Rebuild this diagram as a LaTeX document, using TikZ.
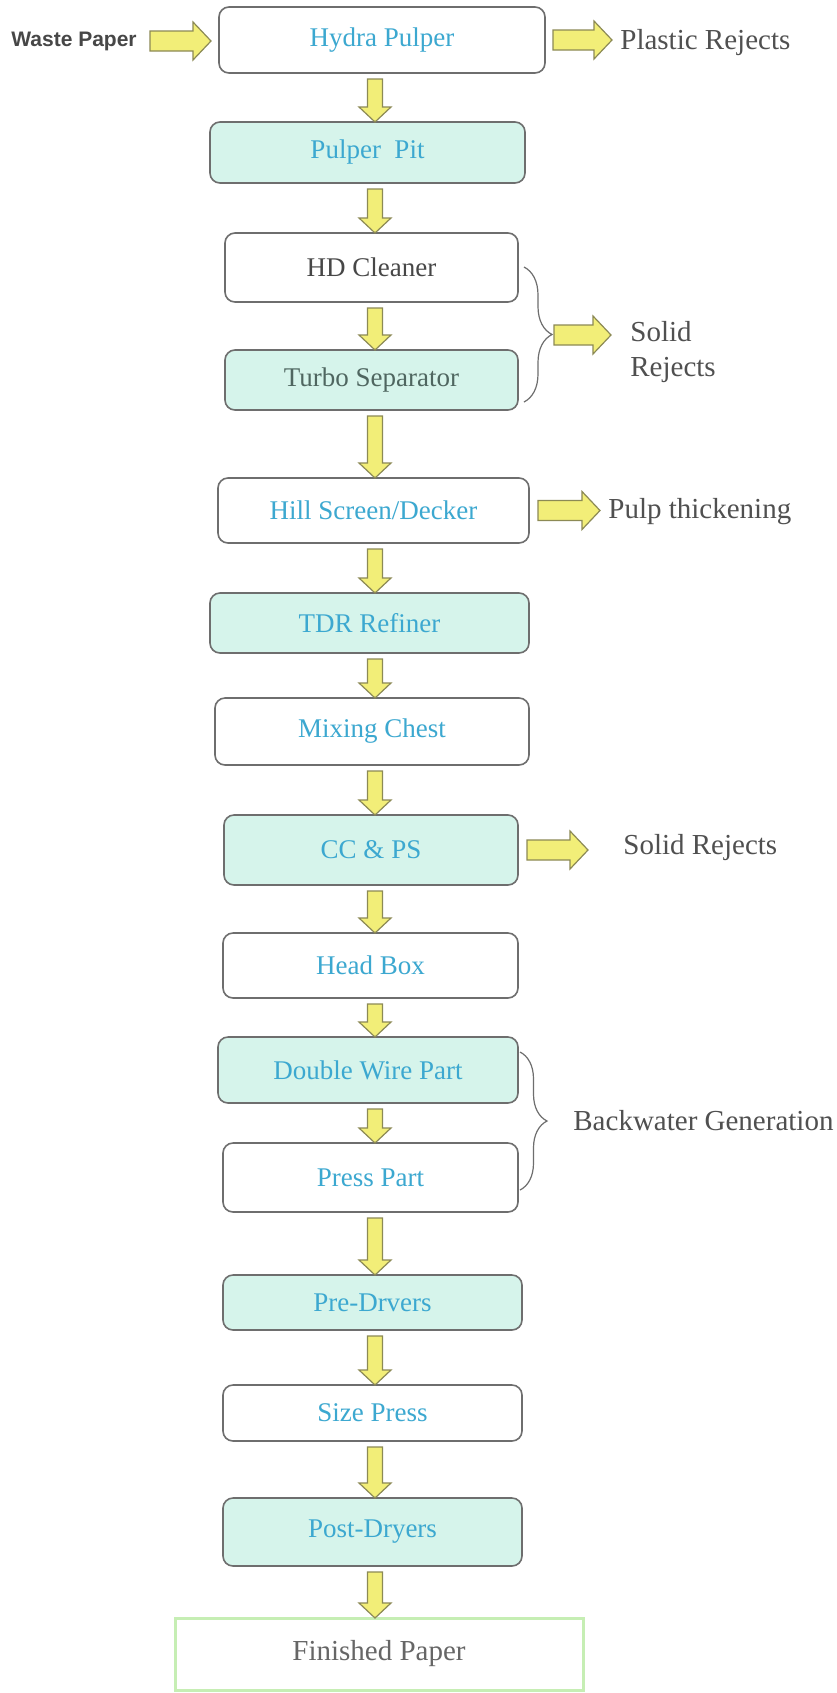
\documentclass[tikz,border=0pt]{standalone}
\usepackage{fontspec}
\setmainfont{Liberation Serif}
\newfontfamily\wsans{Liberation Sans}
\usetikzlibrary{decorations.pathreplacing,calc}
\definecolor{boxgreen}{HTML}{D6F4EB}
\definecolor{txtblue}{HTML}{3CA8D0}
\definecolor{edgegray}{HTML}{6E6E6E}
\definecolor{arrowfill}{HTML}{F2EE78}
\definecolor{arrowedge}{HTML}{8C8A55}
\definecolor{labelgray}{HTML}{505050}
\definecolor{finishedge}{HTML}{C6EEB4}
\definecolor{turbotext}{HTML}{4F6660}
\tikzset{
  procbox/.style={draw=edgegray, line width=0.8pt, rounded corners=5pt, inner sep=0pt, outer sep=0pt,
    text=txtblue, font=\fontsize{13.5}{16}\selectfont},
  greenbox/.style={procbox, fill=boxgreen},
  whitebox/.style={procbox, fill=white},
  finalbox/.style={draw=finishedge, line width=1.5pt, fill=white, inner sep=0pt, outer sep=0pt,
    text=black!60, font=\fontsize{14.5}{17}\selectfont},
  sidelabel/.style={inner sep=0pt, text=labelgray, font=\fontsize{14.5}{17.5}\selectfont, anchor=west, align=left},
  blk/.style={fill=arrowfill, draw=arrowedge, line width=0.6pt, line join=miter},
  bracestyle/.style={draw=edgegray, line width=0.6pt, decorate, decoration={brace, amplitude=#1}},
}
% style, name, left, right, top, bottom, text
\newcommand\procnode[7]{%
  \node[#1, minimum width={(#4-#3)*0.5pt}, minimum height={(#6-#5)*0.5pt}] (#2) at ({(#3+#4)/2},{(#5+#6)/2}) {#7};}
% vertical block arrow from node #1 to node #2
\newcommand\vblk[2]{%
  \path[blk] let \p1=(#1.south), \p2=(#2.north) in
    (183.75pt,\y1-3pt) -- (191.25pt,\y1-3pt) -- (191.25pt,\y2+7.5pt) -- (195.5pt,\y2+7.5pt)
    -- (187.5pt,\y2) -- (179.5pt,\y2+7.5pt) -- (183.75pt,\y2+7.5pt) -- cycle;}
% horizontal block arrow from point #1 to point #2
\newcommand\hblk[2]{%
  \path[blk] let \p1=(#1), \p2=(#2) in
    (\x1,\y1+5pt) -- (\x2-9pt,\y1+5pt) -- (\x2-9pt,\y1+9.5pt) -- (\x2,\y1)
    -- (\x2-9pt,\y1-9.5pt) -- (\x2-9pt,\y1-5pt) -- (\x1,\y1-5pt) -- cycle;}

\begin{document}
\begin{tikzpicture}[x=0.5pt,y=-0.5pt]
\useasboundingbox (0,0) rectangle (836,1693);
\fill[white] (0,0) rectangle (836,1693);

\procnode{whitebox}{hydra}{219}{545}{7}{73}{Hydra Pulper}
\procnode{greenbox}{pit}{210}{525}{122}{183}{Pulper\ \ Pit}
\procnode{whitebox,text=black!72}{hd}{225}{518}{233}{302}{HD Cleaner}
\procnode{greenbox,text=turbotext}{turbo}{225}{518}{350}{410}{Turbo Separator}
\procnode{whitebox}{hill}{218}{529}{478}{543}{Hill Screen/Decker}
\procnode{greenbox}{tdr}{210}{529}{593}{653}{TDR Refiner}
\procnode{whitebox}{mix}{215}{529}{698}{765}{Mixing Chest}
\procnode{greenbox}{cc}{224}{518}{815}{885}{CC \& PS}
\procnode{whitebox}{head}{223}{518}{933}{998}{Head Box}
\procnode{greenbox}{dwire}{218}{518}{1037}{1103}{Double Wire Part}
\procnode{whitebox}{press}{223}{518}{1143}{1212}{Press Part}
\procnode{greenbox}{pre}{223}{522}{1275}{1330}{Pre-Drvers}
\procnode{whitebox}{size}{223}{522}{1385}{1441}{Size Press}
\procnode{greenbox}{post}{223}{522}{1498}{1566}{Post-Dryers}
\procnode{finalbox}{finished}{175}{583}{1618}{1690}{Finished Paper}

% side labels
\node[inner sep=0pt, anchor=west, text=black!72, font=\wsans\bfseries\fontsize{10.5}{12}\selectfont] (waste) at (11,41) {Waste Paper};
\node[sidelabel] (plastic) at (620,43) {Plastic Rejects};
\node[sidelabel] (solid1) at (630,352) {Solid\\Rejects};
\node[sidelabel] (pulp) at (608,512) {Pulp thickening};
\node[sidelabel] (solid2) at (623,848) {Solid Rejects};
\node[sidelabel] (back) at (573,1121) {Backwater Generation};

% braces
\coordinate (b1top) at (524,267);
\coordinate (b1bot) at (524,402);
\coordinate (b1tip) at (554,335);
\draw[bracestyle=14pt] (b1top) -- (b1bot);
\coordinate (b2top) at (520,1052);
\coordinate (b2bot) at (520,1190);
\draw[bracestyle=13.5pt] (b2top) -- (b2bot);

% vertical arrows
\vblk{hydra}{pit}
\vblk{pit}{hd}
\vblk{hd}{turbo}
\vblk{turbo}{hill}
\vblk{hill}{tdr}
\vblk{tdr}{mix}
\vblk{mix}{cc}
\vblk{cc}{head}
\vblk{head}{dwire}
\vblk{dwire}{press}
\vblk{press}{pre}
\vblk{pre}{size}
\vblk{size}{post}
\vblk{post}{finished}

% horizontal arrows
\hblk{$(waste.east)+(13,0)$}{$(hydra.west)+(-8,0)$}
\hblk{$(hydra.east)+(8,0)$}{$(plastic.west)+(-8,0)$}
\hblk{b1tip}{$(b1tip)+(57,0)$}
\hblk{$(hill.east)+(9,0)$}{$(pulp.west)+(-8,0)$}
\hblk{$(cc.east)+(9,0)$}{$(solid2.west)+(-35,0)$}
\end{tikzpicture}
\end{document}
